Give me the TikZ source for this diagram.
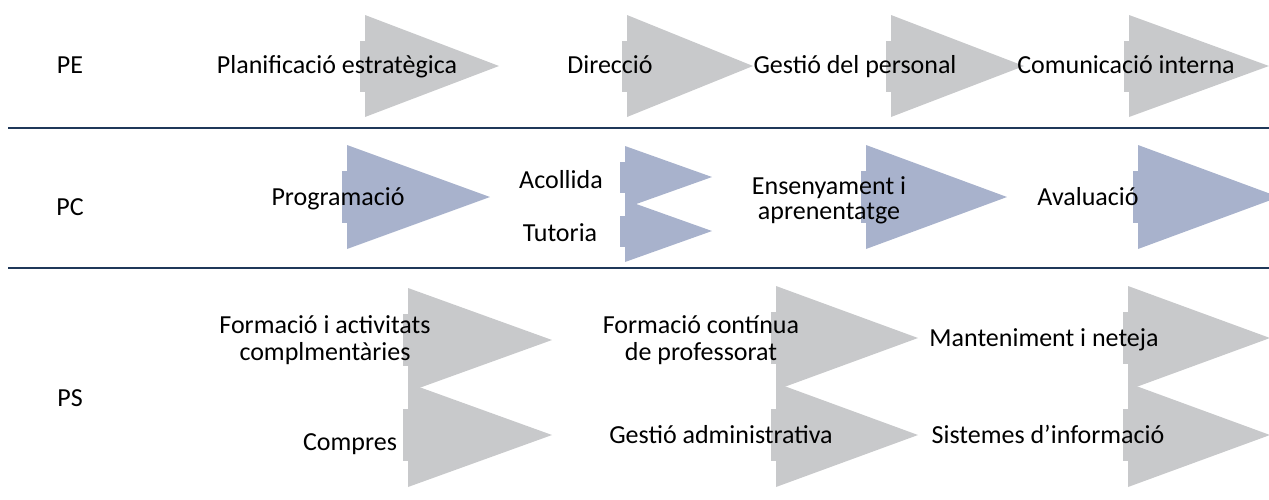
\documentclass[tikz,border=0pt]{standalone}
\usepackage{fontspec}
\setmainfont{Carlito}
\definecolor{grisproc}{RGB}{200,201,203}
\definecolor{blauproc}{RGB}{168,178,204}
\definecolor{ratlla}{RGB}{31,56,89}
% fletxa: #1 left x, #2 tip y, #3 width, #4 half height, #5 colour
\newcommand{\fletxa}[5]{%
  \fill[#5] (#1-5,#2-#4/2) rectangle (#1+5,#2+#4/2);
  \fill[#5] (#1,#2-#4) -- (#1+#3,#2) -- (#1,#2+#4) -- cycle;}
\begin{document}
\begin{tikzpicture}[x=.5pt,y=-.5pt,font=\fontsize{13}{13.5}\selectfont,
  txt/.style={inner sep=0pt,anchor=base},
  txt2/.style={inner sep=0pt,align=center}]
\useasboundingbox (0,0) rectangle (1269,499);
\clip (0,0) rectangle (1269,499);
% separators
\draw[ratlla,line width=1.2pt] (8,128) -- (1269,128);
\draw[ratlla,line width=1.2pt] (8,268) -- (1269,268);
% PE
\fletxa{365}{66}{134}{51}{grisproc}
\fletxa{627}{66}{126}{51}{grisproc}
\fletxa{891}{66}{133}{51}{grisproc}
\fletxa{1129}{66}{140}{51}{grisproc}
% PC
\fletxa{347}{197}{143}{52}{blauproc}
\fletxa{625}{177}{87}{31}{blauproc}
\fletxa{625}{231}{87}{31}{blauproc}
\fletxa{866}{197}{141}{52}{blauproc}
\fletxa{1138}{197}{141}{52}{blauproc}
% PS
\fletxa{408}{340}{144}{52}{grisproc}
\fletxa{408}{435}{144}{52}{grisproc}
\fletxa{776}{338}{142}{52}{grisproc}
\fletxa{776}{435}{142}{52}{grisproc}
\fletxa{1128}{338}{142}{52}{grisproc}
\fletxa{1128}{435}{142}{52}{grisproc}
% labels
\node[txt] (pe) at (70,73) {PE};
\node[txt] (planif) at (337,73) {Planificació estratègica};
\node[txt] (direccio) at (610,73) {Direcció};
\node[txt] (gestiopers) at (855,73) {Gestió del personal};
\node[txt] (comunic) at (1126,73) {Comunicació interna};
\node[txt] (pc) at (70,215) {PC};
\node[txt] (program) at (338,205) {Programació};
\node[txt] (acollida) at (561,188) {Acollida};
\node[txt] (tutoria) at (560,241) {Tutoria};
\node[txt2] (ensenya) at (829,200) {Ensenyament i\\[-1pt]aprenentatge};
\node[txt] (avalua) at (1088,205) {Avaluació};
\node[txt] (ps) at (70,406) {PS};
\node[txt2] (formacio) at (325,340) {Formació i activitats\\complmentàries};
\node[txt] (compres) at (350,450) {Compres};
\node[txt2] (formprof) at (701,340) {Formació contínua\\de professorat};
\node[txt] (gestioadm) at (721,443) {Gestió administrativa};
\node[txt] (manten) at (1044,346) {Manteniment i neteja};
\node[txt] (sistemes) at (1048,443) {Sistemes d’informació};
\end{tikzpicture}
\end{document}
